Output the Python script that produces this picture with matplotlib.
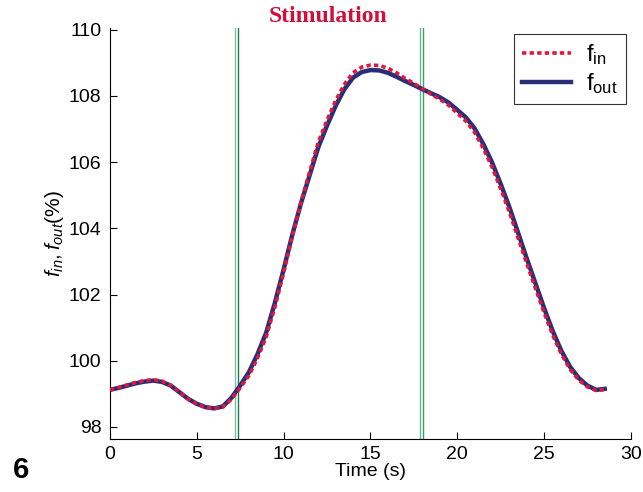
import numpy as np
import matplotlib
matplotlib.use("Agg")
import matplotlib.pyplot as plt

plt.rcParams['font.family'] = ['Liberation Sans', 'DejaVu Sans']
plt.rcParams['mathtext.fontset'] = 'custom'
plt.rcParams['mathtext.rm'] = 'Liberation Sans'
plt.rcParams['mathtext.it'] = 'Liberation Sans:italic'

# Data
time_s = [0, 0.5, 1, 1.5, 2, 2.5, 3, 3.5, 4, 4.5, 5, 5.5, 6, 6.5, 7, 7.5,
          8, 8.5, 9, 9.5, 10, 10.5, 11, 11.5, 12, 12.5, 13, 13.5, 14, 14.5,
          15, 15.5, 16, 16.5, 17, 17.5, 18, 18.5, 19, 19.5, 20, 20.5, 21,
          21.5, 22, 22.5, 23, 23.5, 24, 24.5, 25, 25.5, 26, 26.5, 27, 27.5,
          28, 28.5]
f_out = [99.12, 99.18, 99.25, 99.32, 99.37, 99.40, 99.36, 99.25, 99.05, 98.85,
         98.70, 98.60, 98.56, 98.62, 98.88, 99.25, 99.65, 100.20, 100.85, 101.75,
         102.75, 103.80, 104.75, 105.60, 106.45, 107.10, 107.70, 108.20, 108.55, 108.72,
         108.78, 108.77, 108.70, 108.58, 108.45, 108.33, 108.20, 108.08, 107.96, 107.80,
         107.58, 107.35, 107.02, 106.55, 106.00, 105.35, 104.65, 103.88, 103.10, 102.35,
         101.60, 100.90, 100.30, 99.82, 99.48, 99.25, 99.12, 99.15]
f_in = [99.12, 99.19, 99.27, 99.35, 99.40, 99.43, 99.38, 99.26, 99.05, 98.84,
        98.69, 98.59, 98.56, 98.60, 98.84, 99.18, 99.55, 100.08, 100.72, 101.62,
        102.65, 103.75, 104.78, 105.70, 106.60, 107.26, 107.86, 108.35, 108.70, 108.87,
        108.93, 108.92, 108.84, 108.70, 108.53, 108.38, 108.22, 108.05, 107.90, 107.72,
        107.48, 107.24, 106.90, 106.42, 105.86, 105.20, 104.50, 103.72, 102.95, 102.20,
        101.46, 100.78, 100.20, 99.74, 99.42, 99.21, 99.10, 99.13]

# stimulation markers (double lines)
stim_lines = [7.2, 7.4, 17.85, 18.05]
stim_colors = ['#6fc2a8', '#1f7a4a', '#5fb89a', '#3d9a70']

fig = plt.figure(figsize=(6.43, 4.92), dpi=100)
ax = fig.add_axes([0.171, 0.108, 0.81, 0.835])

for x, c in zip(stim_lines, stim_colors):
    ax.axvline(x, color=c, lw=1.0, zorder=1)

ax.plot(time_s, f_in, color='#e0173c', lw=2.6, linestyle=(0, (1.2, 0.9)),
        label=r'f$_{\mathrm{in}}$', zorder=3)
ax.plot(time_s, f_out, color='#2a2e78', lw=3.2,
        label=r'f$_{\mathrm{out}}$', zorder=2)

ax.set_xlim(0, 30)
ax.set_ylim(97.64, 110.05)
ax.set_xticks([0, 5, 10, 15, 20, 25, 30])
ax.set_yticks([98, 100, 102, 104, 106, 108, 110])
ax.tick_params(direction='in', length=5, labelsize=14, width=0.8)
ax.tick_params(axis='x', pad=5)
ax.tick_params(axis='y', pad=6)
ax.spines['top'].set_visible(False)
ax.spines['right'].set_visible(False)

ax.set_xlabel('Time (s)', fontsize=14, labelpad=0)
ax.set_ylabel(r'$f_{in}, f_{out}$(%)', fontsize=15, labelpad=2)

leg = ax.legend(loc='upper right', bbox_to_anchor=(0.99, 0.985), fontsize=17,
                frameon=True, fancybox=False, handlelength=2.1,
                borderpad=0.35, labelspacing=0.15, handletextpad=0.6,
                borderaxespad=0)
leg.get_frame().set_edgecolor('black')
leg.get_frame().set_linewidth(0.8)

fig.text(328 / 643, 1 - 17 / 492, 'Stimulation', color='#d0103a',
         fontsize=17, fontweight='bold', family='Liberation Serif',
         ha='center', va='center')
fig.text(21 / 643, 1 - 470 / 492, '6', fontsize=21, fontweight='bold',
         ha='center', va='center')

fig.savefig('out.png', dpi=100)
